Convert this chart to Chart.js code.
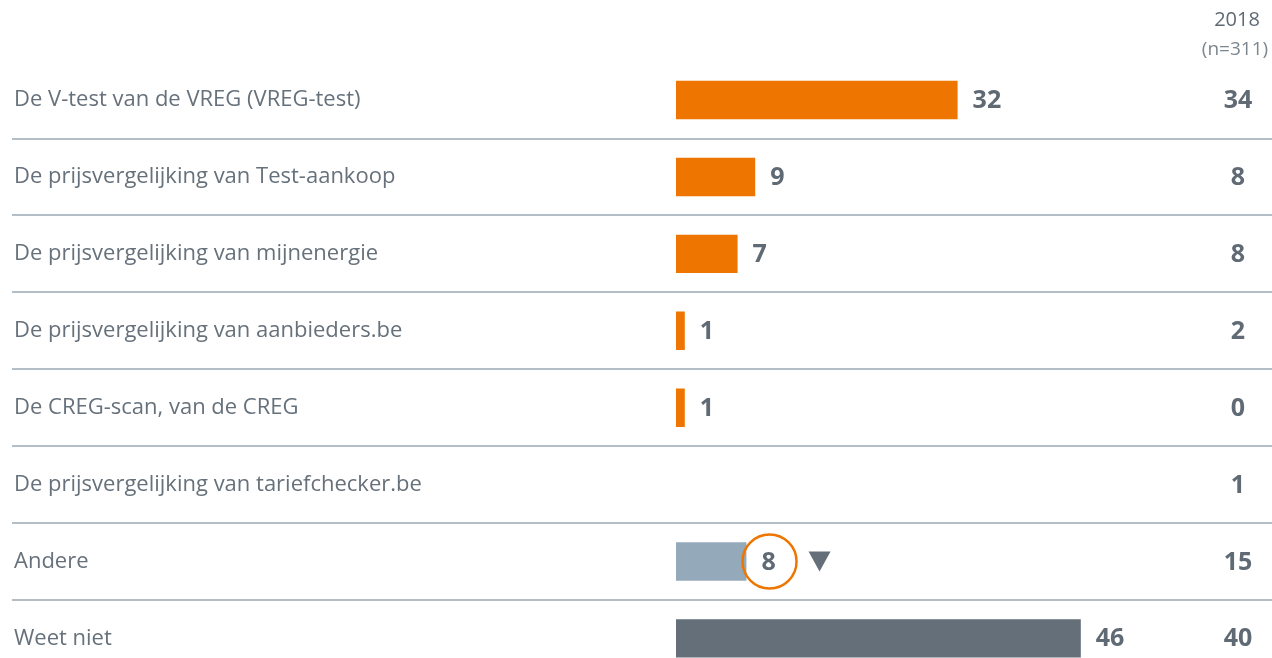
<!DOCTYPE html>
<html>
<head>
<meta charset="utf-8">
<script src="https://cdn.jsdelivr.net/npm/chart.js@4"></script>
<style>
  html, body { margin: 0; padding: 0; background: #fff; overflow: hidden; }
  #wrap { width: 1272px; height: 658px; overflow: hidden; }
</style>
</head>
<body>
<div id="wrap"><canvas id="grafiek" width="1272" height="690"></canvas></div>
<script>
// --- DATA ---
const categorieen = [
    'De V-test van de VREG (VREG-test)',
    'De prijsvergelijking van Test-aankoop',
    'De prijsvergelijking van mijnenergie',
    'De prijsvergelijking van aanbieders.be',
    'De CREG-scan, van de CREG',
    'De prijsvergelijking van tariefchecker.be',
    'Andere',
    'Weet niet'
];
const waarden = [32, 9, 7, 1, 1, null, 8, 46];
const waarden2018 = [34, 8, 8, 2, 0, 1, 15, 40];
const significantDaling = [false, false, false, false, false, false, true, false];
const kolomTitel = '2018';
const kolomN = '(n=311)';

const ORANJE = '#ee7600';
const GRIJS_LICHT = '#94a9b9';
const GRIJS_DONKER = '#646f79';
const TEKST = '#5f6a74';
const LIJN = '#b3bec7';

const barKleuren = categorieen.map(function(c) {
    if (c === 'Andere') return GRIJS_LICHT;
    if (c === 'Weet niet') return GRIJS_DONKER;
    return ORANJE;
});

// --- PLUGIN: scheidingslijnen, waarden en kolom 2018 ---
const extraPlugin = {
    id: 'extra',
    beforeDatasetsDraw(chart) {
        const c = chart.ctx;
        const y = chart.scales.y;
        c.save();
        c.strokeStyle = LIJN;
        c.lineWidth = 2;
        for (let i = 0; i < categorieen.length - 1; i++) {
            const py = Math.round((y.getPixelForValue(i) + y.getPixelForValue(i + 1)) / 2);
            c.beginPath();
            c.moveTo(12, py);
            c.lineTo(chart.width, py);
            c.stroke();
        }
        c.restore();
    },
    afterDatasetsDraw(chart) {
        const c = chart.ctx;
        const meta = chart.getDatasetMeta(0);
        const y = chart.scales.y;
        const kolomX = chart.chartArea.right + 34;
        c.save();
        c.textBaseline = 'middle';
        c.fillStyle = TEKST;
        c.font = 'bold 25px "Open Sans"';

        meta.data.forEach(function(bar, i) {
            const v = waarden[i];
            const py = y.getPixelForValue(i) + 1;
            if (v !== null && v !== undefined) {
                const tx = bar.x + 15;
                c.textAlign = 'left';
                c.fillStyle = TEKST;
                c.fillText(String(v), tx, py);
                if (significantDaling[i]) {
                    const w = c.measureText(String(v)).width;
                    const cx = tx + w / 2 + 1;
                    c.beginPath();
                    c.strokeStyle = ORANJE;
                    c.lineWidth = 2.5;
                    c.arc(cx, py - 1, 27, 0, Math.PI * 2);
                    c.stroke();
                    // driehoek
                    c.beginPath();
                    c.fillStyle = GRIJS_DONKER;
                    c.moveTo(cx + 39, py - 11);
                    c.lineTo(cx + 61, py - 11);
                    c.lineTo(cx + 50, py + 9);
                    c.closePath();
                    c.fill();
                    c.fillStyle = TEKST;
                }
            }
            c.textAlign = 'center';
            c.fillText(String(waarden2018[i]), kolomX, py);
        });

        // kolomtitel
        c.textAlign = 'center';
        c.fillStyle = TEKST;
        c.font = '20px "Open Sans"';
        c.fillText(kolomTitel, kolomX - 1, 20);
        c.font = '19px "Open Sans"';
        c.fillStyle = '#7b868f';
        c.fillText(kolomN, kolomX - 3, 50);
        c.restore();
    }
};

// --- GRAFIEK ---
const ctx = document.getElementById('grafiek').getContext('2d');
new Chart(ctx, {
    type: 'bar',
    data: {
        labels: categorieen,
        datasets: [{
            data: waarden,
            backgroundColor: barKleuren,
            borderWidth: 0,
            barPercentage: 0.5,
            categoryPercentage: 1
        }]
    },
    options: {
        indexAxis: 'y',
        responsive: false,
        animation: false,
        layout: {
            padding: { left: 14, right: 68, top: 61.6, bottom: 0 }
        },
        plugins: {
            legend: { display: false },
            tooltip: { enabled: false }
        },
        scales: {
            x: {
                display: false,
                min: 0,
                max: 60
            },
            y: {
                grid: { display: false, drawTicks: false },
                border: { display: false },
                ticks: {
                    crossAlign: 'far',
                    padding: 0,
                    color: '#66717b',
                    font: { family: '"Open Sans"', size: 22 }
                },
                afterFit: function(scale) { scale.width = 662; }
            }
        }
    },
    plugins: [extraPlugin]
});
</script>
</body>
</html>
